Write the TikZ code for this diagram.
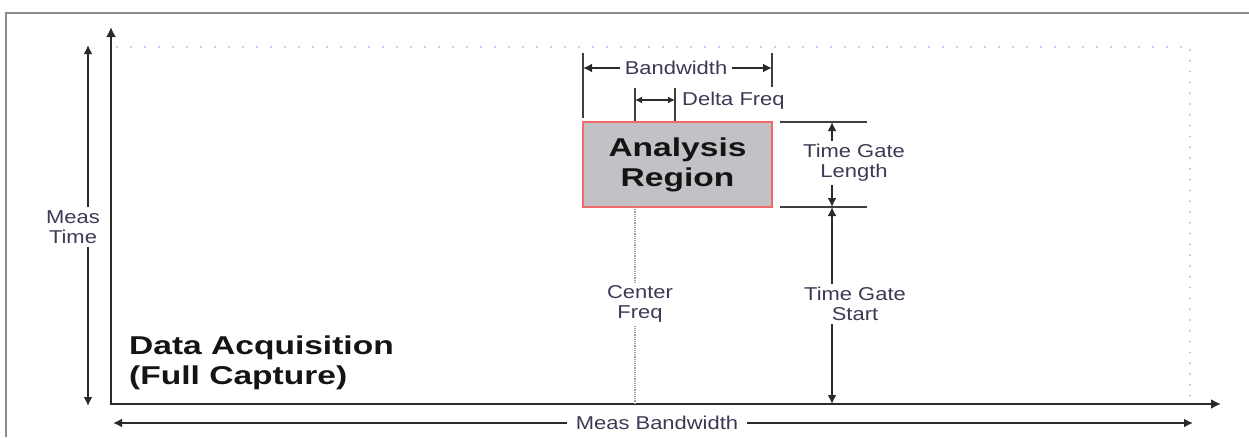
\documentclass[tikz,border=0pt]{standalone}
\usepackage{fontspec}
\setmainfont{Liberation Sans}
\newfontfamily\lblfont[FakeStretch=1.18]{Liberation Sans}
\newfontfamily\headfont[FakeStretch=1.3]{Liberation Sans}
\usepackage{tikz}
\usetikzlibrary{
  arrows.meta,
  calc
}
\definecolor{lblcol}{HTML}{3A3A52}
\definecolor{axiscol}{HTML}{2A2A2A}
\definecolor{framecol}{HTML}{8C8C8C}
\definecolor{dotcol}{HTML}{B4BEF0}
\definecolor{boxfill}{HTML}{C3C1C5}
\definecolor{boxedge}{HTML}{F06A6A}

\tikzset{
  lbl/.style = {font=\lblfont\fontsize{18.6}{20}\selectfont, text=lblcol, align=center, inner sep=3pt},
  headtxt/.style = {font=\headfont\bfseries\fontsize{25.8}{30}\selectfont, text=black!92, inner sep=0pt},
  dimline/.style = {draw=axiscol, line width=1.8pt},
  tickline/.style = {draw=axiscol!90, line width=1.5pt},
  tip/.style = {-{Latex[length=9pt,width=9pt]}},
  twotips/.style = {{Latex[length=7pt,width=7pt]}-{Latex[length=7pt,width=7pt]}}
}

\begin{document}
\begin{tikzpicture}[x=1pt, y=-1pt]
\useasboundingbox (0,0) rectangle (1249,437);

% frame
\draw[framecol, line width=2.2pt] (6,437) -- (6,13) -- (1249,13);

% axes
\coordinate (o) at (111,404);
\coordinate (ytop) at (111,27);
\coordinate (xend) at (1221,404);
\draw[axiscol, line width=2.2pt, {Latex[length=10pt,width=10pt]}-{Latex[length=10pt,width=10pt]}] (ytop) -- (o) -- (xend);

% full capture (dotted)
\draw[dotcol, line width=2.2pt, line cap=round, dash pattern=on 0pt off 14pt] (117,47) -- (1190,47);
\draw[dotcol, line width=2.2pt, line cap=round, dash pattern=on 0pt off 10.8pt] (1190,50) -- (1190,398);

% meas time
\node[lbl] (mt) at (73,227) {Meas\\Time};
\coordinate (mttop) at (88,45);
\coordinate (mtbot) at (88,406);
\draw[dimline, tip] (mt.north -| mttop) -- (mttop);
\draw[dimline, tip] (mt.south -| mtbot) -- (mtbot);

% meas bandwidth
\node[lbl, inner xsep=9pt] (mb) at (657,423) {Meas Bandwidth};
\coordinate (mbl) at (113,423);
\coordinate (mbr) at (1193,423);
\draw[dimline, tip] (mbl -| mb.west) -- (mbl);
\draw[dimline, tip] (mbr -| mb.east) -- (mbr);

% analysis region
\node[headtxt, minimum width=189pt, minimum height=85pt, fill=boxfill, draw=boxedge,
  line width=1.6pt, align=center] (ar) at (677.5,164.5) {Analysis\\Region};

% bandwidth
\coordinate (bwl) at (583,53);
\coordinate (bwr) at (772,53);
\draw[tickline] (bwl) -- (583,118);
\draw[tickline] (bwr) -- (772,87);
\node[lbl, inner xsep=5pt] (bw) at (676,68) {Bandwidth};
\draw[dimline, tip] (bw.west) -- (bwl |- bw.west);
\draw[dimline, tip] (bw.east) -- (bwr |- bw.east);

% delta freq
\coordinate (dfl) at (635,100);
\coordinate (dfr) at (675,100);
\draw[tickline] (635,88) -- (635,121);
\draw[tickline] (675,88) -- (675,121);
\draw[dimline, twotips] (dfl) -- (dfr);
\node[lbl, anchor=west, inner sep=0pt] (df) at (682,101) {Delta Freq};

% center freq
\coordinate (cftop) at (635,207);
\coordinate (cfbot) at (635,404);
\node[lbl] (cf) at (640,304) {Center\\Freq};
\draw[gray!75, line width=1.3pt, dash pattern=on 1.2pt off 1pt] (cftop) -- (cftop |- cf.north);
\draw[gray!75, line width=1.3pt, dash pattern=on 1.2pt off 1pt] (cfbot |- cf.south) -- (cfbot);

% time gate length
\draw[tickline] (780,122) -- (867,122);
\draw[tickline] (780,207) -- (867,207);
\coordinate (tglt) at (832,122);
\coordinate (tglb) at (832,207);
\node[lbl] (tgl) at (854,163) {Time Gate\\Length};
\draw[dimline, tip] (tgl.north -| tglt) -- (tglt);
\draw[dimline, tip] (tgl.south -| tglb) -- (tglb);

% time gate start
\coordinate (tgsb) at (832,404);
\node[lbl] (tgs) at (855,304) {Time Gate\\Start};
\draw[dimline, tip] (tgs.north -| tglb) -- (tglb);
\draw[dimline, tip] (tgs.south -| tgsb) -- (tgsb);

% data acquisition
\node[headtxt, anchor=west, align=left] (da) at (129,363) {Data Acquisition\\(Full Capture)};

\end{tikzpicture}
\end{document}
